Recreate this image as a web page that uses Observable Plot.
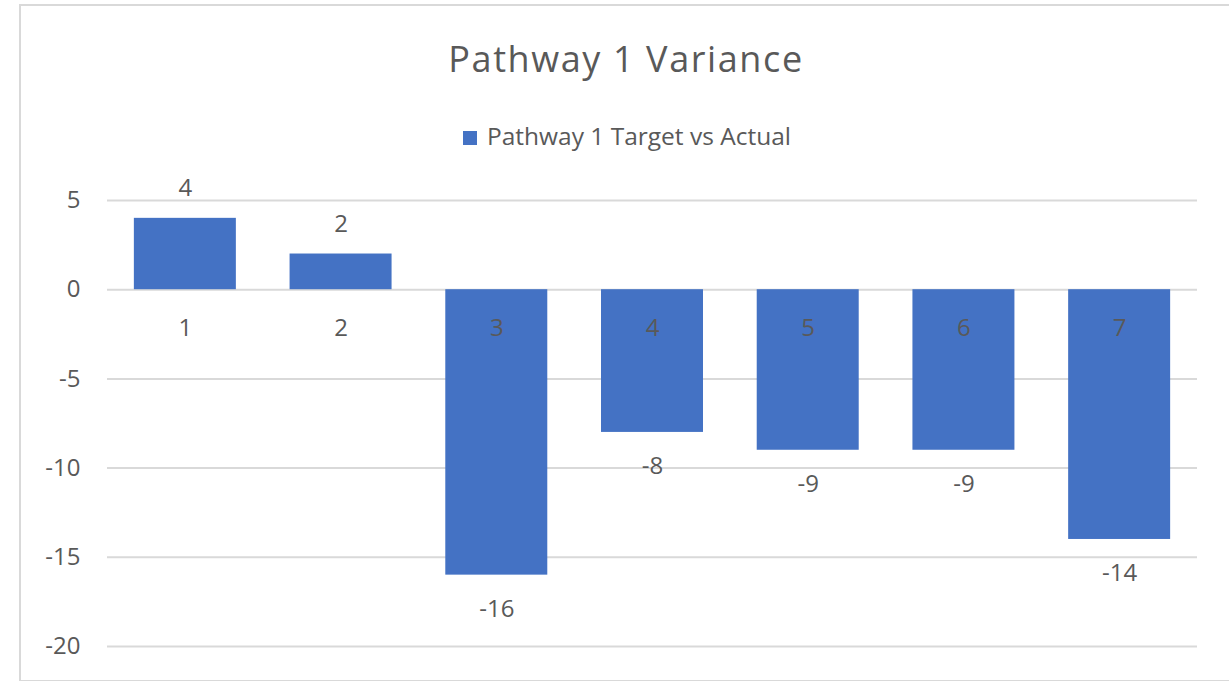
<!DOCTYPE html>
<html>
<head>
<meta charset="utf-8">
<script src="https://cdn.jsdelivr.net/npm/d3@7"></script>
<script src="https://cdn.jsdelivr.net/npm/@observablehq/plot@0.6"></script>
<style>
  html, body { margin: 0; padding: 0; background: #fff; overflow: hidden; }
  body { width: 1229px; height: 681px; position: relative; font-family: "Open Sans", Lato, sans-serif; }
  #frame { position: absolute; left: 19px; top: 4px; width: 1240px; height: 678px; border: 2.5px solid #d9d9d9; box-sizing: border-box; }
  #title { position: absolute; left: 0; width: 1252px; top: 34px; text-align: center; font-size: 36px; letter-spacing: 1.6px; color: #595959; line-height: 50px; }
  #legend { position: absolute; left: 0; width: 1254px; top: 121px; display: flex; justify-content: center; align-items: center; font-size: 24.5px; color: #595959; line-height: 30px; }
  #legend .sw { width: 14px; height: 14px; background: #4472c4; margin-right: 10px; position: relative; top: 2px; }
  #chart { position: absolute; left: 0; top: 160px; }
</style>
</head>
<body>
<div id="frame"></div>
<div id="title">Pathway 1 Variance</div>
<div id="legend"><span class="sw"></span><span>Pathway 1 Target vs Actual</span></div>
<div id="chart"></div>
<script>
const categories = ["1", "2", "3", "4", "5", "6", "7"];
const values = [4, 2, -16, -8, -9, -9, -14];
const yTicks = [5, 0, -5, -10, -15, -20];
const seriesName = "Pathway 1 Target vs Actual";

const data = categories.map((c, i) => ({category: c, value: values[i]}));
const font = "'Open Sans', Lato, sans-serif";
const fs = 24;

const chart = Plot.plot({
  width: 1229,
  height: 521,
  marginLeft: 107,
  marginRight: 32,
  marginTop: 40,
  marginBottom: 35,
  style: {fontFamily: font, color: "#595959", background: "transparent"},
  x: {domain: categories, paddingInner: 0.345, paddingOuter: 0.1725, round: false, axis: null},
  y: {domain: [-20, 5], ticks: yTicks, tickSize: 0, tickPadding: 27, label: null, tickFormat: d => String(d)},
  marks: [
    Plot.ruleY(yTicks, {stroke: "#d9d9d9", strokeWidth: 2}),
    Plot.axisY({ticks: yTicks, tickSize: 0, tickPadding: 27, label: null, fontSize: fs, fill: "#595959", tickFormat: d => String(d)}),
    Plot.barY(data, {x: "category", y: "value", fill: "#4472c4"}),
    Plot.text(data, {x: "category", y: 0, text: "category", dy: 39, fontSize: fs, fill: "#595959", lineAnchor: "middle"}),
    Plot.text(data.filter(d => d.value >= 0), {x: "category", y: "value", text: d => String(d.value), dy: -30, fontSize: fs, fill: "#595959", lineAnchor: "middle"}),
    Plot.text(data.filter(d => d.value < 0), {x: "category", y: "value", text: d => String(d.value), dy: 34, fontSize: fs, fill: "#595959", lineAnchor: "middle"})
  ]
});
document.getElementById("chart").appendChild(chart);
</script>
</body>
</html>
